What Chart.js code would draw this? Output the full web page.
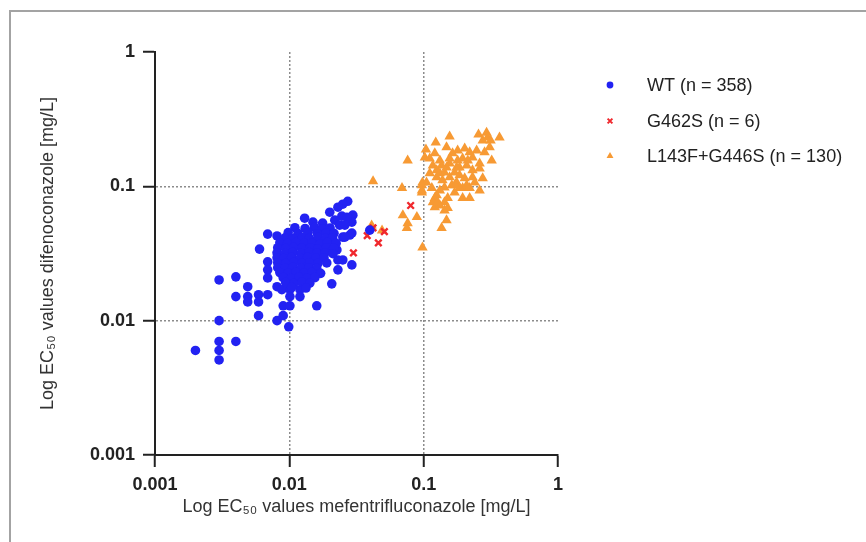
<!DOCTYPE html>
<html>
<head>
<meta charset="utf-8">
<script src="https://cdn.jsdelivr.net/npm/chart.js@4.4.1/dist/chart.umd.min.js"></script>
<style>
  html, body { margin: 0; padding: 0; background: #fff; }
  #wrap { position: relative; width: 866px; height: 542px; overflow: hidden; }
  #frame { position: absolute; left: 9px; top: 10px; width: 900px; height: 600px;
           border-left: 2px solid #a3a3a3; border-top: 2px solid #a3a3a3; pointer-events: none; }
  canvas { position: absolute; left: 0; top: 0; }
</style>
</head>
<body>
<div id="wrap">
  <canvas id="c" width="866" height="542"></canvas>
  <div id="frame"></div>
</div>
<script>
// ---------- data (x = mefentrifluconazole EC50, y = difenoconazole EC50, mg/L) ----------
const seriesLabels = ['WT (n = 358)', 'G462S (n = 6)', 'L143F+G446S (n = 130)'];
const xTickValues = [0.001, 0.01, 0.1, 1];
const xTickLabels = ['0.001', '0.01', '0.1', '1'];
const yTickValues = [0.001, 0.01, 0.1, 1];
const yTickLabels = ['0.001', '0.01', '0.1', '1'];
const xTitle = 'Log EC\u2085\u2080 values mefentrifluconazole [mg/L]';
const yTitle = 'Log EC\u2085\u2080 values difenoconazole [mg/L]';

const wtPoints = [
  [0.0020,0.0060],[0.0030,0.0100],[0.0030,0.0070],[0.0030,0.0060],[0.0030,0.0051],[0.0040,0.0070],
  [0.0030,0.0201],[0.0040,0.0212],[0.0049,0.0179],[0.0040,0.0151],[0.0049,0.0151],[0.0049,0.0138],
  [0.0059,0.0156],[0.0059,0.0138],[0.0069,0.0156],[0.0059,0.0109],[0.0081,0.0100],[0.0090,0.0109],
  [0.0099,0.0090],[0.0081,0.0179],[0.0088,0.0170],[0.0101,0.0170],[0.0120,0.0170],[0.0120,0.0151],
  [0.0101,0.0151],[0.0090,0.0129],[0.0101,0.0129],[0.0160,0.0129],[0.0207,0.0188],[0.0069,0.0274],
  [0.0069,0.0239],[0.0069,0.0208],[0.0060,0.0341],[0.0069,0.0441],[0.0081,0.0427],[0.0230,0.0283],
  [0.0292,0.0260],[0.0230,0.0239],[0.0272,0.0774],[0.0250,0.0736],[0.0230,0.0699],[0.0200,0.0642],
  [0.0297,0.0610],[0.0246,0.0600],[0.0130,0.0579],[0.0150,0.0541],[0.0177,0.0532],[0.0218,0.0560],
  [0.0292,0.0541],[0.0237,0.0514],[0.0282,0.0434],[0.0250,0.0419],[0.0226,0.0336],[0.0268,0.0589],
  [0.0259,0.0514],[0.0292,0.0449],[0.0259,0.0419],[0.0250,0.0283],[0.0397,0.0472],
  [0.0110,0.0492],[0.0131,0.0486],[0.0154,0.0495],[0.0176,0.0483],[0.0201,0.0490],
  [0.0098,0.0452],[0.0116,0.0446],[0.0138,0.0455],[0.0162,0.0444],[0.0188,0.0451],[0.0215,0.0447],
  [0.0093,0.0414],[0.0106,0.0409],[0.0125,0.0416],[0.0141,0.0410],[0.0164,0.0415],[0.0186,0.0408],[0.0210,0.0413],
  [0.0085,0.0380],[0.0097,0.0375],[0.0112,0.0382],[0.0129,0.0376],[0.0147,0.0379],[0.0170,0.0374],[0.0192,0.0381],[0.0223,0.0377],
  [0.0082,0.0349],[0.0094,0.0344],[0.0108,0.0350],[0.0124,0.0345],[0.0143,0.0348],[0.0163,0.0343],[0.0188,0.0349],[0.0214,0.0346],
  [0.0081,0.0320],[0.0093,0.0316],[0.0106,0.0321],[0.0122,0.0317],[0.0140,0.0322],[0.0160,0.0318],[0.0184,0.0320],[0.0211,0.0315],
  [0.0081,0.0294],[0.0091,0.0290],[0.0104,0.0295],[0.0120,0.0291],[0.0137,0.0296],[0.0157,0.0292],[0.0181,0.0294],
  [0.0082,0.0270],[0.0094,0.0266],[0.0108,0.0271],[0.0124,0.0267],[0.0142,0.0270],[0.0163,0.0266],[0.0190,0.0269],
  [0.0082,0.0248],[0.0093,0.0245],[0.0106,0.0249],[0.0122,0.0246],[0.0140,0.0248],[0.0160,0.0245],
  [0.0085,0.0228],[0.0098,0.0225],[0.0112,0.0229],[0.0128,0.0226],[0.0147,0.0228],[0.0171,0.0225],
  [0.0090,0.0209],[0.0103,0.0206],[0.0118,0.0210],[0.0135,0.0207],[0.0155,0.0209],
  [0.0094,0.0192],[0.0108,0.0189],[0.0124,0.0193],[0.0142,0.0190],
  [0.0104,0.0177],[0.0133,0.0175]
];

const g462sPoints = [
  [0.080,0.072],[0.042,0.049],[0.051,0.046],[0.038,0.043],[0.046,0.038],[0.030,0.032]
];

const l143fPoints = [
  [0.042,0.109],[0.076,0.156],[0.069,0.097],[0.097,0.093],[0.070,0.061],[0.089,0.059],[0.076,0.053],
  [0.075,0.049],[0.098,0.035],[0.041,0.051],[0.049,0.047],[0.104,0.188],[0.123,0.212],[0.156,0.235],
  [0.256,0.243],[0.294,0.251],[0.299,0.231],[0.275,0.219],[0.315,0.219],[0.367,0.231],[0.202,0.191],
  [0.179,0.185],[0.248,0.185],[0.148,0.195],[0.121,0.176],[0.132,0.156],[0.156,0.148],[0.185,0.138],
  [0.209,0.143],[0.231,0.132],[0.261,0.136],[0.321,0.156],[0.231,0.117],[0.111,0.125],[0.125,0.117],
  [0.138,0.111],[0.176,0.107],[0.162,0.102],[0.195,0.097],[0.105,0.107],[0.115,0.097],[0.261,0.093],
  [0.220,0.082],[0.121,0.082],[0.121,0.070],[0.143,0.076],[0.148,0.056],[0.136,0.049],[0.164,0.176],
  [0.284,0.179],[0.231,0.164],[0.195,0.161],[0.261,0.148],[0.111,0.161],[0.102,0.164],[0.117,0.143],
  [0.148,0.138],[0.176,0.138],[0.132,0.125],[0.156,0.117],[0.185,0.121],[0.275,0.115],[0.098,0.107],
  [0.143,0.098],[0.185,0.097],[0.220,0.097],[0.125,0.086],[0.151,0.082],[0.195,0.082],[0.132,0.072],
  [0.143,0.066],[0.117,0.076],[0.143,0.127],[0.170,0.127],[0.202,0.115],[0.156,0.161],[0.136,0.143],
  [0.213,0.156],[0.179,0.156],[0.125,0.132],[0.097,0.102],[0.097,0.090],[0.127,0.076],[0.151,0.069],
  [0.170,0.090],[0.209,0.102],[0.240,0.107],[0.310,0.195],[0.220,0.179],[0.170,0.102],[0.132,0.093]
];

// ---------- styles ----------
const FONT = '"Liberation Sans", Arial, Helvetica, sans-serif';
const colWT = 'rgb(34,34,242)';
const colG = 'rgb(240,40,45)';
const colL = 'rgb(247,154,52)';

const toXY = arr => arr.map(p => ({x: p[0], y: p[1]}));

const legendPlugin = {
  id: 'sideLegend',
  afterDraw(chart) {
    const ctx = chart.ctx;
    const rows = [85, 121, 156];
    const mx = 610, tx = 647;
    ctx.save();
    chart.data.datasets.forEach((ds, i) => {
      const y = rows[i];
      ctx.fillStyle = ds.backgroundColor;
      ctx.strokeStyle = ds.borderColor;
      ctx.lineWidth = ds.pointStyle === 'crossRot' ? 2 : 0;
      Chart.helpers.drawPoint(ctx, {
        pointStyle: ds.pointStyle,
        radius: ds.pointStyle === 'triangle' ? 4 : 3.4,
        rotation: 0,
        borderWidth: ds.pointStyle === 'crossRot' ? 2 : 0
      }, mx, y);
      ctx.fillStyle = '#222';
      ctx.font = '18px ' + FONT;
      ctx.textBaseline = 'middle';
      ctx.textAlign = 'left';
      ctx.fillText(ds.label, tx, y + 1);
    });
    ctx.restore();
  }
};

const gridColor = (c) => (c.index === 0 || c.index === 3) ? 'rgba(0,0,0,0)' : '#8c8c8c';

new Chart(document.getElementById('c'), {
  type: 'scatter',
  data: {
    datasets: [
      { label: seriesLabels[0], data: toXY(wtPoints), pointStyle: 'circle', pointRadius: 4.8,
        backgroundColor: colWT, borderColor: colWT, borderWidth: 0, pointHoverRadius: 4.8 },
      { label: seriesLabels[1], data: toXY(g462sPoints), pointStyle: 'crossRot', pointRadius: 4.6,
        backgroundColor: colG, borderColor: colG, borderWidth: 2.4, pointHoverRadius: 4.6 },
      { label: seriesLabels[2], data: toXY(l143fPoints), pointStyle: 'triangle', pointRadius: 6,
        backgroundColor: colL, borderColor: colL, borderWidth: 0, pointHoverRadius: 6 }
    ]
  },
  options: {
    responsive: false,
    animation: false,
    devicePixelRatio: 1,
    layout: { padding: { left: 20, right: 308, top: 52, bottom: 20 } },
    plugins: { legend: { display: false }, tooltip: { enabled: false } },
    scales: {
      x: {
        type: 'logarithmic', min: 0.001, max: 1,
        afterBuildTicks: s => { s.ticks = xTickValues.map(v => ({ value: v })); },
        afterFit: s => { s.height = 67; },
        ticks: {
          autoSkip: false, maxRotation: 0, padding: 7, color: '#222',
          font: { family: FONT, size: 18, weight: 'bold' },
          callback: (v, i) => xTickLabels[i]
        },
        grid: { color: gridColor, lineWidth: 1.5, drawTicks: true, tickLength: 12,
                tickColor: '#222', tickWidth: 2 },
        border: { display: true, color: '#222', width: 2, dash: [2, 2] },
        title: { display: true, text: xTitle, color: '#333',
                 font: { family: FONT, size: 18 }, padding: { top: 0, bottom: 4 } }
      },
      y: {
        type: 'logarithmic', min: 0.001, max: 1,
        afterBuildTicks: s => { s.ticks = yTickValues.map(v => ({ value: v })); },
        afterFit: s => { s.width = 135; },
        ticks: {
          autoSkip: false, padding: 8, color: '#222',
          font: { family: FONT, size: 18, weight: 'bold' },
          callback: (v, i) => yTickLabels[i]
        },
        grid: { color: gridColor, lineWidth: 1.5, drawTicks: true, tickLength: 12,
                tickColor: '#222', tickWidth: 2 },
        border: { display: true, color: '#222', width: 2, dash: [2, 2] },
        title: { display: true, text: yTitle, color: '#333',
                 font: { family: FONT, size: 18 }, padding: { top: 17, bottom: 0 } }
      }
    }
  },
  plugins: [legendPlugin]
});
</script>
</body>
</html>
